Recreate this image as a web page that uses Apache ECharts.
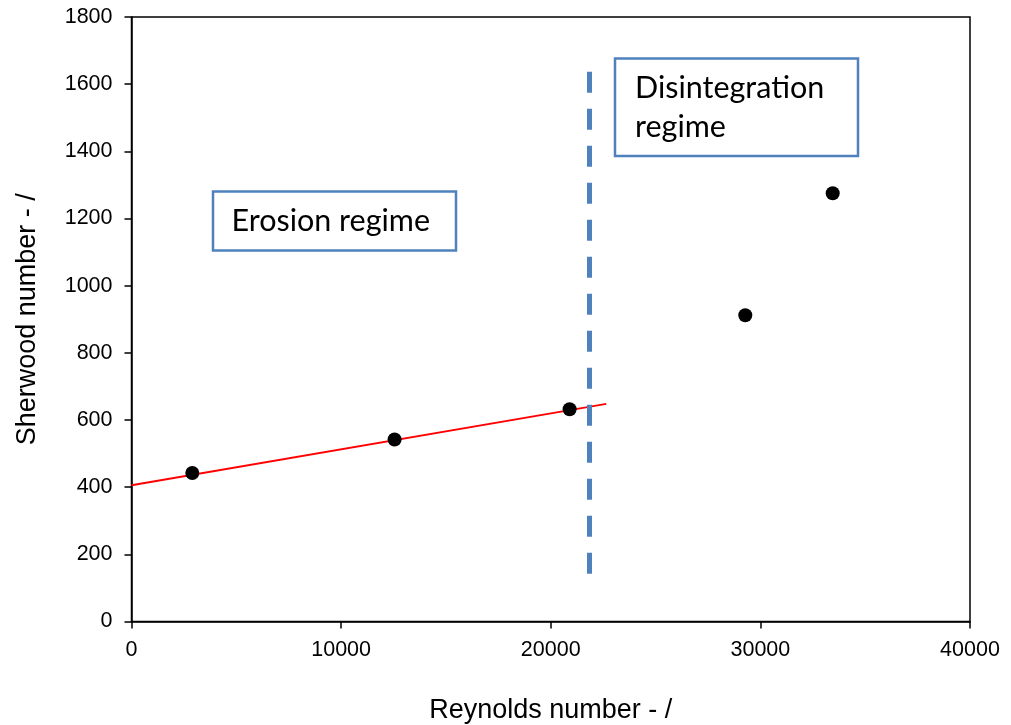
<!DOCTYPE html>
<html>
<head>
<meta charset="utf-8">
<script src="https://cdn.jsdelivr.net/npm/echarts@6/dist/echarts.min.js"></script>
<style>
  html, body { margin: 0; padding: 0; background: #ffffff; }
  #chart { width: 1011px; height: 725px; }
</style>
</head>
<body>
<div id="chart"></div>
<script>
// Measured Sherwood number against Reynolds number
const reynolds = [2900, 12550, 20900, 29280, 33450];
const sherwood = [442, 542, 632, 912, 1275];

// Linear fit through the erosion-regime points (end points)
const fitRe = [0, 22650];
const fitSh = [406, 648];

// Boundary between the erosion and disintegration regimes
const boundaryRe = [21850, 21850];
const boundarySh = [1637, 133];

const xTicks = { min: 0, max: 40000, interval: 10000 };
const yTicks = { min: 0, max: 1800, interval: 200 };

const xTitle = 'Reynolds number - /';
const yTitle = 'Sherwood number - /';
const regimeLabels = ['Erosion regime', 'Disintegration\nregime'];

const chart = echarts.init(document.getElementById('chart'), null, { renderer: 'canvas' });

const pts = reynolds.map((r, i) => [r, sherwood[i]]);
const fit = fitRe.map((r, i) => [r, fitSh[i]]);
const boundary = boundaryRe.map((r, i) => [r, boundarySh[i]]);

const tickFont = { fontFamily: 'Liberation Sans, Arial, sans-serif', fontSize: 21.5, color: '#000' };
const plain = v => String(v);
const boxBlue = '#4f81bd';
const boxFont = 'Lato, "Open Sans", sans-serif';

chart.setOption({
  animation: false,
  backgroundColor: '#ffffff',
  grid: {
    left: 131.5, right: 41, top: 17, bottom: 103.5,
    containLabel: false, outerBoundsMode: 'none',
    show: true, borderColor: '#000', borderWidth: 1.5, backgroundColor: 'transparent'
  },
  xAxis: {
    type: 'value',
    min: xTicks.min, max: xTicks.max, interval: xTicks.interval,
    name: xTitle, nameLocation: 'middle', nameGap: 76,
    nameTextStyle: { fontFamily: tickFont.fontFamily, fontSize: 27, color: '#000' },
    axisLine: { show: true, onZero: false, lineStyle: { color: '#000', width: 1.5 } },
    axisTick: { show: true, inside: false, length: 7, lineStyle: { color: '#000', width: 1.5 } },
    axisLabel: Object.assign({ margin: 18, formatter: plain }, tickFont),
    splitLine: { show: false }
  },
  yAxis: {
    type: 'value',
    min: yTicks.min, max: yTicks.max, interval: yTicks.interval,
    name: yTitle, nameLocation: 'middle', nameGap: 90, nameRotate: 90,
    nameTextStyle: { fontFamily: tickFont.fontFamily, fontSize: 27, color: '#000' },
    axisLine: { show: true, onZero: false, lineStyle: { color: '#000', width: 1.5 } },
    axisTick: { show: true, inside: false, length: 7, lineStyle: { color: '#000', width: 1.5 } },
    axisLabel: Object.assign({ margin: 19, formatter: plain }, tickFont),
    splitLine: { show: false }
  },
  series: [
    {
      type: 'line', data: fit, symbol: 'none', silent: true,
      lineStyle: { color: '#ff0000', width: 2 }, z: 2
    },
    {
      type: 'line', data: boundary, symbol: 'none', silent: true,
      lineStyle: { color: boxBlue, width: 5, type: [21, 16], cap: 'butt' }, z: 3
    },
    {
      type: 'scatter', data: pts, symbol: 'circle', symbolSize: 14,
      itemStyle: { color: '#000', opacity: 1 }, z: 4
    }
  ],
  graphic: [
    {
      type: 'rect', z: 10,
      shape: { x: 213, y: 191.5, width: 243, height: 59 },
      style: { fill: '#fff', stroke: boxBlue, lineWidth: 2.5 }
    },
    {
      type: 'text', z: 11, left: 231.5, top: 206,
      style: { text: regimeLabels[0], font: '30.5px ' + boxFont, fill: '#000' }
    },
    {
      type: 'rect', z: 10,
      shape: { x: 615, y: 58.5, width: 243, height: 97.5 },
      style: { fill: '#fff', stroke: boxBlue, lineWidth: 2.5 }
    },
    {
      type: 'text', z: 11, left: 635, top: 69,
      style: { text: regimeLabels[1], font: '30.5px ' + boxFont, fill: '#000', lineHeight: 39 }
    }
  ]
});
</script>
</body>
</html>
